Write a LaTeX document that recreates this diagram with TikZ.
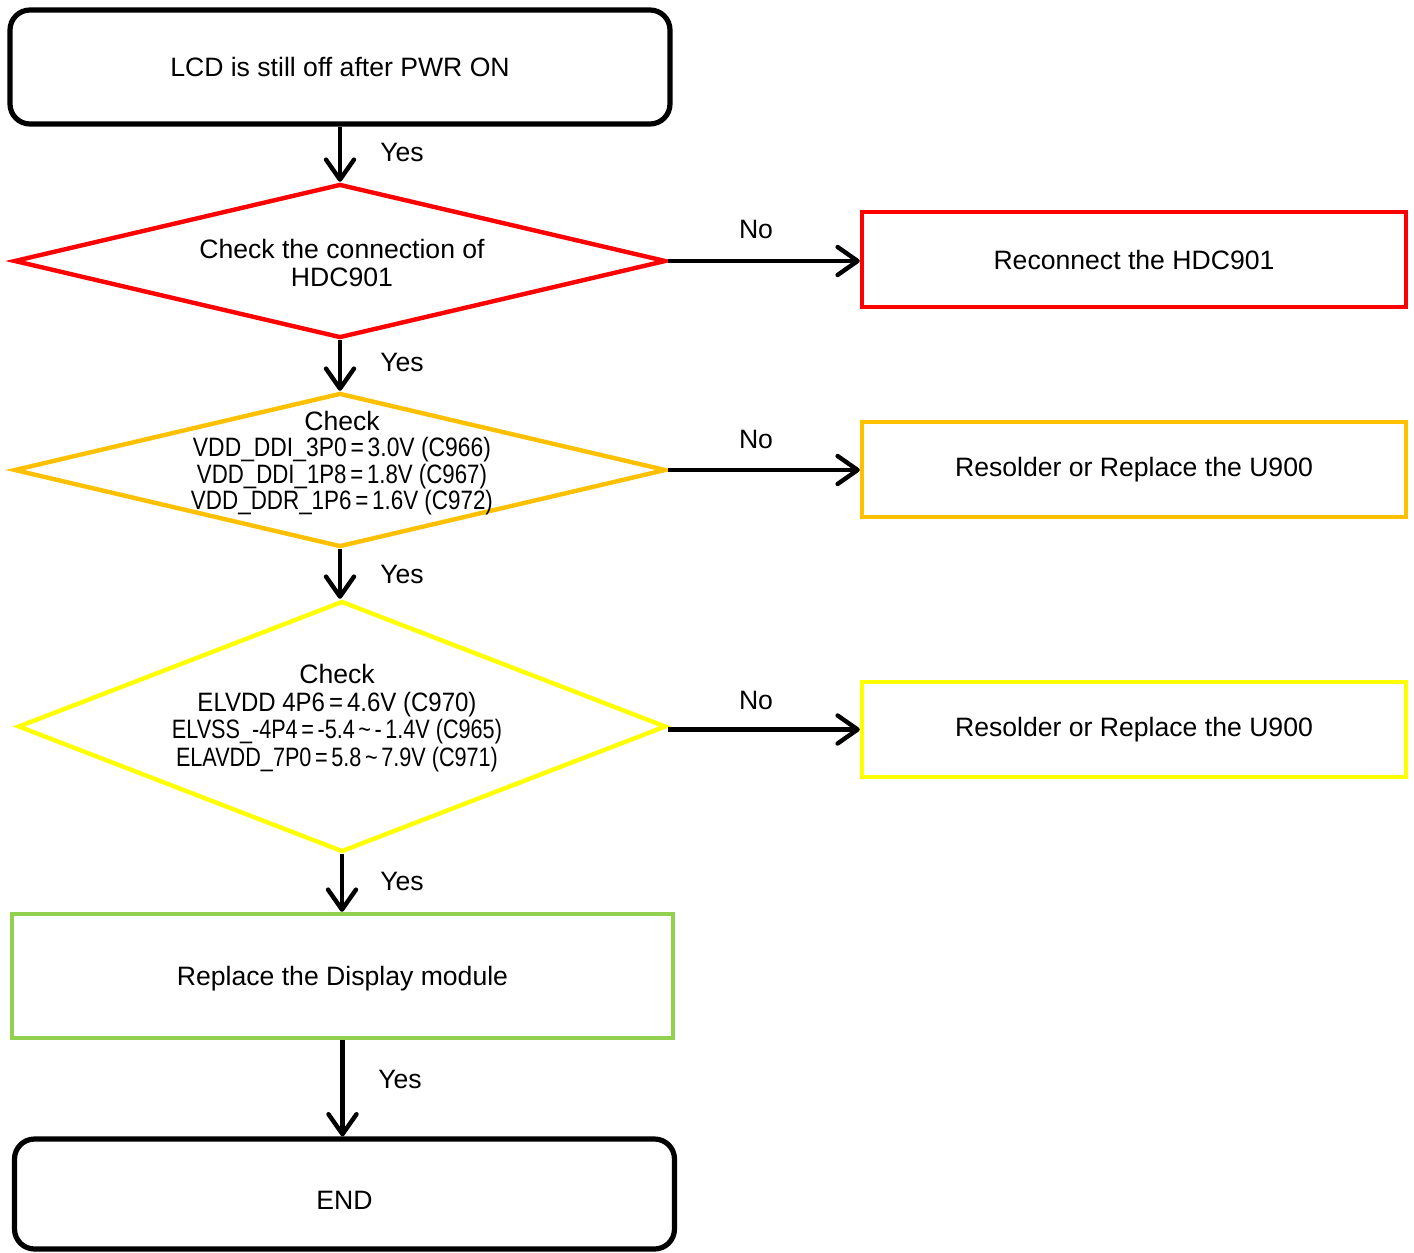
\documentclass[tikz,border=0pt]{standalone}
\usepackage{fontspec}
\setmainfont{Liberation Sans}
\usepackage{graphicx}
\usetikzlibrary{shapes.geometric,arrows.meta}
\definecolor{cred}{HTML}{FF0000}
\definecolor{corange}{HTML}{FFC000}
\definecolor{cyellow}{HTML}{FFFF00}
\definecolor{cgreen}{HTML}{92D050}
\newcommand{\sq}[2]{\resizebox{#1}{\height}{#2}}
\begin{document}
\begin{tikzpicture}[x=0.5pt,y=-0.5pt,
  every node/.style={font=\fontsize{13.3}{14}\selectfont, text=black},
  termbox/.style={draw=black, line width=2.6pt, rounded corners=10pt, minimum width=330pt, inner sep=0pt},
  actbox/.style={draw, line width=2.2pt, minimum width=272pt, minimum height=47.5pt, inner sep=0pt},
  decbox/.style={draw, diamond, line width=2.2pt, inner sep=0pt},
  flow/.style={draw=black, line width=2.2pt, -{Straight Barb[length=10pt,width=14pt,line width=2.2pt,round]}},
  lbl/.style={inner sep=0pt}
]
\useasboundingbox (0,0) rectangle (1414,1253);

% terminals
\node[termbox, minimum height=57pt, text height=11pt, text depth=2pt] (start) at (340,67) {LCD is still off after PWR ON};
\node[termbox, minimum height=55pt, text height=15.5pt, text depth=0pt] (end) at (344.5,1194) {END};

% decisions
\node[decbox, draw=cred, minimum width=326pt, minimum height=77pt] (d1) at (340,261) {};
\node[decbox, draw=corange, minimum width=326pt, minimum height=77pt] (d2) at (340,470) {};
\node[decbox, draw=cyellow, minimum width=324pt, minimum height=125.5pt] (d3) at (342,726.5) {};

\node[lbl, align=center, font=\fontsize{13.3}{14}\selectfont] (t1) at (342,263)
  {Check the connection of\\HDC901};
\node[lbl, align=center, font=\fontsize{13.3}{13.2}\selectfont] (t2) at (342,463)
  {Check\\
   \sq{149pt}{VDD\_DDI\_3P0\,=\,3.0V (C966)}\\
   \sq{145pt}{VDD\_DDI\_1P8\,=\,1.8V (C967)}\\
   \sq{151pt}{VDD\_DDR\_1P6\,=\,1.6V (C972)}};
\node[lbl, align=center, font=\fontsize{13.3}{13.8}\selectfont] (t3) at (337,718)
  {Check\\
   \sq{139.5pt}{ELVDD 4P6\,=\,4.6V (C970)}\\
   \sq{165pt}{ELVSS\_-4P4\,=\,-5.4\,\textasciitilde\,-\,1.4V (C965)}\\
   \sq{161pt}{ELAVDD\_7P0\,=\,5.8\,\textasciitilde\,7.9V (C971)}};

% actions
\node[actbox, draw=cred] (r1) at (1134,259.5) {Reconnect the HDC901};
\node[actbox, draw=corange] (r2) at (1134,469.5) {Resolder or Replace the U900};
\node[actbox, draw=cyellow] (r3) at (1134,729.5) {Resolder or Replace the U900};
\node[draw=cgreen, line width=2.2pt, minimum width=330.5pt, minimum height=62pt, inner sep=0pt, text height=11pt, text depth=2pt] (rep) at (342.5,976) {Replace the Display module};

% connectors
\draw[flow] (start.south) -- (d1.north);
\draw[flow] (d1.south) -- (d2.north);
\draw[flow] (d2.south) -- (d2.south |- d3.north);
\draw[flow] (d3.south) -- (d3.south |- rep.north);
\draw[flow] (rep.south) -- (rep.south |- end.north);
\draw[flow] (d1.east) -- (d1.east -| r1.west);
\draw[flow] (d2.east) -- (d2.east -| r2.west);
\draw[flow] (r3.west -| d3.east) -- (r3.west);

% labels
\node[lbl] (y1) at (402,152) {Yes};
\node[lbl] (y2) at (402,362) {Yes};
\node[lbl] (y3) at (402,574) {Yes};
\node[lbl] (y4) at (402,881) {Yes};
\node[lbl] (y5) at (400,1079) {Yes};
\node[lbl] (n1) at (756,229) {No};
\node[lbl] (n2) at (756,439) {No};
\node[lbl] (n3) at (756,700) {No};
\end{tikzpicture}
\end{document}
